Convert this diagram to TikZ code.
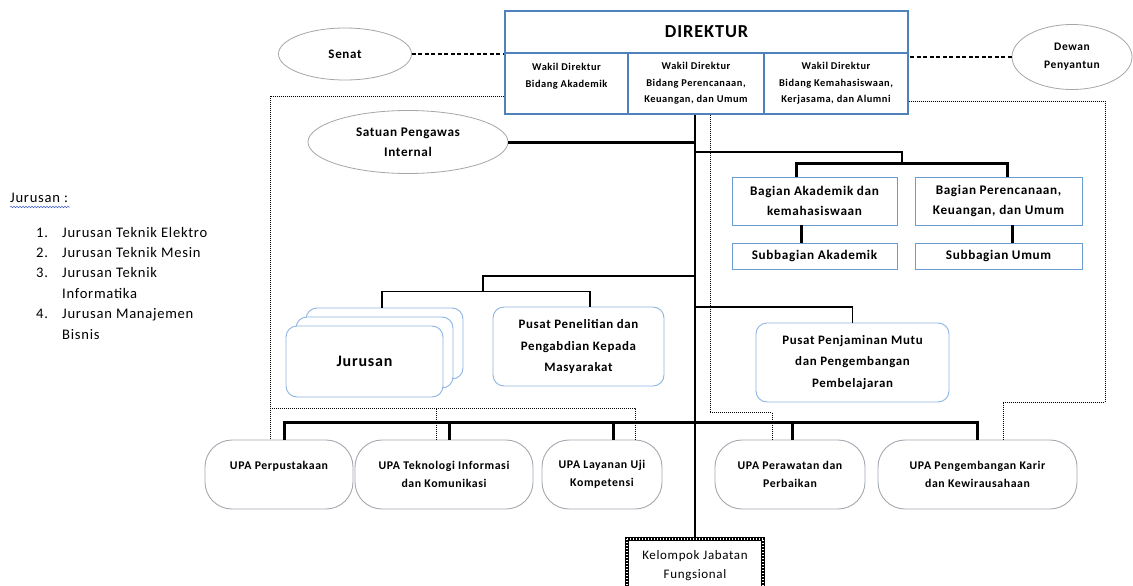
\documentclass[tikz,border=0pt]{standalone}
\usepackage{fontspec}
\setmainfont{Carlito}[LetterSpace=5]
\usetikzlibrary{shapes.geometric,decorations.pathmorphing,calc}
\definecolor{dirblue}{HTML}{4F81BD}
\definecolor{bagblue}{HTML}{6C9BD2}
\definecolor{lblue}{HTML}{8DB4E2}
\definecolor{ovalgray}{HTML}{A6A6A6}
\definecolor{upagray}{HTML}{A5A9B0}
\definecolor{squiggle}{HTML}{4060D0}
\begin{document}
\begin{tikzpicture}[x=1pt,y=-1pt,
  cellbox/.style={draw=dirblue,line width=1.3pt,fill=white,align=center,inner sep=0pt},
  bagbox/.style={draw=bagblue,line width=0.9pt,fill=white,align=center,inner sep=0pt,
     font=\bfseries\fontsize{13.2}{20}\selectfont},
  roundbox/.style={draw=lblue,line width=0.9pt,fill=white,rounded corners=11pt,align=center,inner sep=0pt,
     font=\bfseries\fontsize{12.9}{21.5}\selectfont},
  upabox/.style={draw=upagray,line width=0.9pt,fill=white,rounded corners=27pt,align=center,inner sep=0pt,
     minimum height=69pt,font=\bfseries\fontsize{11.8}{17.5}\selectfont},
  ovalbox/.style={ellipse,draw=ovalgray,line width=0.8pt,fill=white,align=center,inner sep=0pt,
     font=\bfseries\fontsize{12}{18}\selectfont},
  thickline/.style={line width=3pt},
  midline/.style={line width=1.7pt},
  thinline/.style={line width=1.1pt},
  dotline/.style={line width=0.9pt,dash pattern=on 1pt off 1pt},
  dashline/.style={line width=1.5pt,dash pattern=on 4pt off 2.5pt},
  listtext/.style={anchor=base west,inner sep=0pt,font=\fontsize{14.6}{16}\selectfont}
]
\useasboundingbox (0,0) rectangle (1133,586);
\clip (0,0) rectangle (1133,586);
\fill[white] (0,0) rectangle (1133,586);

% ---------- junction coordinates ----------
\coordinate (j1) at (694,152);
\coordinate (j1b) at (902,164);
\coordinate (j2) at (694,276);
\coordinate (j2b) at (483,292);
\coordinate (j3) at (694,307);
\coordinate (bus) at (694,422);
\coordinate (d1a) at (270,408);
\coordinate (d3a) at (1105,402);

% ---------- top ----------
\node[cellbox,minimum width=403pt,minimum height=42pt,font=\bfseries\fontsize{18.3}{22}\selectfont] (dir) at (706.5,32) {DIREKTUR};
\node[cellbox,minimum width=123pt,minimum height=61pt,font=\bfseries\fontsize{10.4}{16.5}\selectfont] (w1) at (566.5,83.5) {Wakil Direktur\\Bidang Akademik\\\mbox{}};
\node[cellbox,minimum width=136pt,minimum height=61pt,font=\bfseries\fontsize{10.4}{16.5}\selectfont] (w2) at (696,83.5) {Wakil Direktur\\Bidang Perencanaan,\\Keuangan, dan Umum};
\node[cellbox,minimum width=144pt,minimum height=61pt,font=\bfseries\fontsize{10.4}{16.5}\selectfont] (w3) at (836,83.5) {Wakil Direktur\\Bidang Kemahasiswaan,\\Kerjasama, dan Alumni};

\node[ovalbox,minimum width=133pt,minimum height=52pt,font=\bfseries\fontsize{13}{18}\selectfont] (senat) at (345,54) {Senat};
\node[ovalbox,minimum width=120pt,minimum height=65pt,font=\bfseries\fontsize{11.5}{18}\selectfont] (dewan) at (1072,57) {Dewan\\Penyantun};
\node[ovalbox,minimum width=200pt,minimum height=63pt,font=\bfseries\fontsize{13.2}{19.5}\selectfont] (spi) at (408,142) {Satuan Pengawas\\Internal};

% ---------- bagian ----------
\node[bagbox,minimum width=165pt,minimum height=48pt] (ba) at (814.5,201) {Bagian Akademik dan\\kemahasiswaan};
\node[bagbox,minimum width=167pt,minimum height=48pt] (bp) at (998.5,201) {Bagian Perencanaan,\\Keuangan, dan Umum};
\node[bagbox,minimum width=165pt,minimum height=26pt] (sa) at (814.5,256) {Subbagian Akademik};
\node[bagbox,minimum width=167pt,minimum height=26pt] (su) at (998.5,256) {Subbagian Umum};

% ---------- jurusan / pusat ----------
\node[roundbox,minimum width=157pt,minimum height=71pt] (jb) at (384.5,343.5) {};
\node[roundbox,minimum width=157pt,minimum height=71pt] (jm) at (374.5,352.5) {};
\node[roundbox,minimum width=157pt,minimum height=71pt,font=\bfseries\fontsize{16}{20}\selectfont] (jur) at (364.5,361.5) {Jurusan};
\node[roundbox,minimum width=171pt,minimum height=79pt] (pp) at (578.5,346.5) {Pusat Penelitian dan\\Pengabdian Kepada\\Masyarakat};
\node[roundbox,minimum width=193pt,minimum height=79pt] (pm) at (852.5,362.5) {Pusat Penjaminan Mutu\\dan Pengembangan\\Pembelajaran};

% ---------- UPA ----------
\node[upabox,minimum width=148pt] (u1) at (279,474.5) {UPA Perpustakaan\\\mbox{}};
\node[upabox,minimum width=178pt] (u2) at (444,474.5) {UPA Teknologi Informasi\\dan Komunikasi};
\node[upabox,minimum width=120pt] (u3) at (602,474.5) {UPA Layanan Uji\\Kompetensi};
\node[upabox,minimum width=150pt] (u4) at (790,474.5) {UPA Perawatan dan\\Perbaikan};
\node[upabox,minimum width=199pt] (u5) at (977.5,474.5) {UPA Pengembangan Karir\\dan Kewirausahaan};

% ---------- Kelompok Jabatan Fungsional ----------
\node[align=center,inner sep=0pt,minimum width=136pt,minimum height=54pt,font=\fontsize{13}{19}\selectfont] (kjf) at (695,566) {Kelompok Jabatan\\Fungsional};
\draw[line width=4pt,black] (kjf.north west) rectangle (kjf.south east);
\draw[line width=2.4pt,white,dash pattern=on 0.7pt off 2.3pt] (kjf.north west) rectangle (kjf.south east);

% ---------- connectors ----------
\draw[dashline] (senat.east) -- (senat.east -| dir.west);
\draw[dashline] (dewan.west) -- (dewan.west -| dir.east);
\draw[thickline] (spi.east) -- (spi.east -| kjf.north);

% bagian
\draw[thinline] (j1) -| (j1b);
\draw[thickline] ([xshift=-18.5pt]ba.north) -- ++(0,-13) -| ([xshift=8.5pt]bp.north);
\draw[thickline] ([xshift=-13.5pt]ba.south) -- ([xshift=-13.5pt]sa.north);
\draw[thickline] ([xshift=13.5pt]bp.south) -- ([xshift=13.5pt]su.north);

% jurusan & pusat penelitian
\draw[midline] (j2) -| (j2b);
\draw[midline] ([xshift=-2.5pt]jb.north) -- ++(0,-16) -| ([xshift=11.5pt]pp.north);
% pusat penjaminan mutu
\draw[midline] (j3) -| (pm.north);

% UPA bus
\draw[thickline] ([xshift=5pt]u1.north) |- (bus) -| (u5.north);
\draw[thickline] ([xshift=5pt]u2.north) -- ([xshift=5pt]u2.north |- bus);
\draw[thickline] ([xshift=11pt]u3.north) -- ([xshift=11pt]u3.north |- bus);
\draw[thickline] ([xshift=2pt]u4.north) -- ([xshift=2pt]u4.north |- bus);
% main vertical
\draw[thinline] (kjf.north |- w2.south) -- ([yshift=2pt]kjf.north);

% dotted coordination lines
\draw[dotline] ([yshift=-12.5pt]w1.west) -| ([xshift=-9pt]u1.north);
\draw[dotline] (d1a) -| ([xshift=33pt]u3.north);
\draw[dotline] ([xshift=-8pt]u2.north) -- ++(0,-32);
\draw[dotline] ([xshift=14pt]w2.south) -- ++(0,298) -| ([xshift=-18pt]u4.north);
\draw[dotline] ([yshift=-17.5pt]w3.east) -| (d3a) -| ([xshift=25.5pt]u5.north);

% ---------- left list ----------
\node[listtext] (jh) at (10,202.5) {Jurusan :};
\draw[squiggle,line width=0.5pt,decorate,decoration={snake,segment length=3pt,amplitude=0.8pt}] (10,207) -- (70,207);
\node[listtext] (n1) at (36,237.5) {1.};
\node[listtext] (t1) at (62,237.5) {Jurusan Teknik Elektro};
\node[listtext] (n2) at (36,257.5) {2.};
\node[listtext] (t2) at (62,257.5) {Jurusan Teknik Mesin};
\node[listtext] (n3) at (36,277.5) {3.};
\node[listtext] (t3) at (62,277.5) {Jurusan Teknik};
\node[listtext] (t3b) at (62,298) {Informatika};
\node[listtext] (n4) at (36,318.5) {4.};
\node[listtext] (t4) at (62,318.5) {Jurusan Manajemen};
\node[listtext] (t4b) at (62,339) {Bisnis};
\end{tikzpicture}
\end{document}
